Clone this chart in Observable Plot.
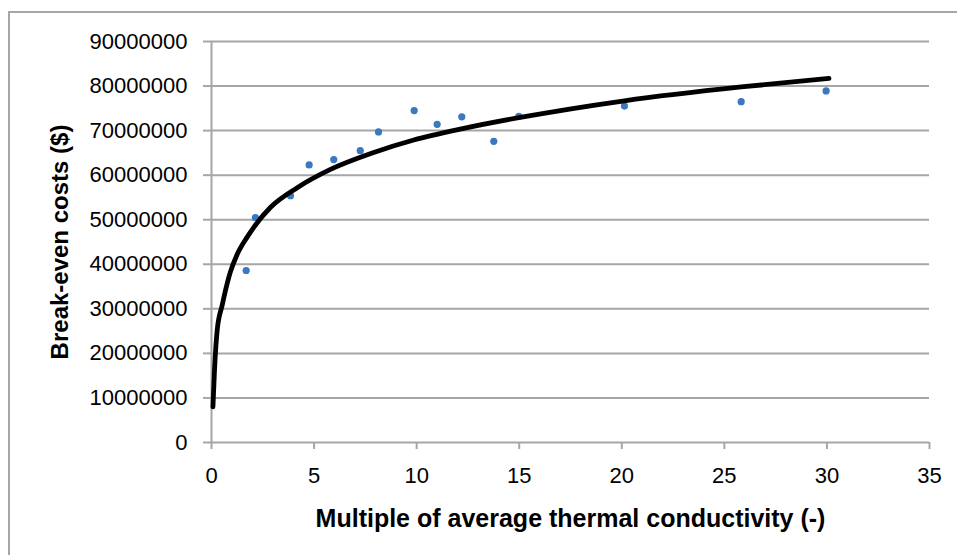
<!DOCTYPE html>
<html>
<head>
<meta charset="utf-8">
<script src="https://cdn.jsdelivr.net/npm/d3@7"></script>
<script src="https://cdn.jsdelivr.net/npm/@observablehq/plot@0.6"></script>
<style>
  body { margin: 0; background: #fff; }
  #wrap { position: relative; width: 957px; height: 555px; overflow: hidden; background: #fff; }
  #wrap svg { position: absolute; left: 0; top: 0; }
  #border { position: absolute; left: 8px; top: 11px; right: -10px; bottom: -10px;
            border-left: 2px solid #a6a6a6; border-top: 2px solid #a6a6a6; pointer-events: none; }
</style>
</head>
<body>
<div id="wrap"><div id="border"></div></div>
<script>
// ---- data ----
const xLabel = "Multiple of average thermal conductivity (-)";
const yLabel = "Break-even costs ($)";
const xTicks = [0, 5, 10, 15, 20, 25, 30, 35];
const yTicks = [0, 10000000, 20000000, 30000000, 40000000, 50000000, 60000000, 70000000, 80000000, 90000000];

// observed points
const pointX = [1.69, 2.14, 3.85, 4.76, 5.96, 7.25, 8.14, 9.88, 11.0, 12.2, 13.76, 14.98, 20.13, 25.82, 29.96];
const pointY = [38.6e6, 50.5e6, 55.4e6, 62.3e6, 63.5e6, 65.5e6, 69.7e6, 74.5e6, 71.4e6, 73.1e6, 67.6e6, 73.2e6, 75.5e6, 76.5e6, 78.9e6];

// trend curve
const trendX = [0.07, 0.15, 0.28, 0.52, 0.84, 0.93, 1.25, 1.74, 2.06, 2.88, 4.18, 5.80, 7.91, 9.86, 12.3, 14.98, 20.13, 25.82, 30.1];
const trendY = [8.0e6, 16.6e6, 25.3e6, 30.8e6, 37.0e6, 38.4e6, 42.2e6, 46.1e6, 48.3e6, 52.8e6, 57.2e6, 61.3e6, 65.1e6, 67.9e6, 70.5e6, 72.9e6, 76.7e6, 79.8e6, 81.7e6];

const points = pointX.map((x, i) => ({x, y: pointY[i]}));
const trend = trendX.map((x, i) => ({x, y: trendY[i]}));

const grid = "#a6a6a6";

const chart = Plot.plot({
  width: 957,
  height: 555,
  marginLeft: 211,
  marginRight: 28,
  marginTop: 41,
  marginBottom: 113,
  x: {domain: [0, 35]},
  y: {domain: [0, 90000000]},
  style: {fontFamily: "'Liberation Sans', Arial, sans-serif", fontSize: "22px", background: "transparent", color: "#000", overflow: "visible"},
  marks: [
    Plot.ruleY(yTicks, {x1: 0, x2: 35, stroke: grid, strokeWidth: 2}),
    Plot.ruleX([0], {y1: 0, y2: 90000000, stroke: grid, strokeWidth: 2}),
    Plot.axisY({ticks: yTicks, tickSize: 8, tickPadding: 16, tickFormat: d3.format("d"),
                stroke: grid, strokeWidth: 2, fill: "#000", fontSize: 22, label: null}),
    Plot.axisX({ticks: xTicks, tickSize: 7, tickPadding: 18, tickFormat: d => String(d),
                stroke: grid, strokeWidth: 2, fill: "#000", fontSize: 22, label: null}),
    Plot.dot(points, {x: "x", y: "y", r: 3.6, fill: "#3a78bf", stroke: "none"}),
    Plot.line(trend, {x: "x", y: "y", stroke: "#000", strokeWidth: 4.8, curve: "monotone-x", strokeLinecap: "round"}),
    Plot.text([xLabel], {text: d => d, frameAnchor: "bottom", dy: 76, lineAnchor: "middle", textAnchor: "middle",
                         fontWeight: "bold", fontSize: 25, fill: "#000"}),
    Plot.text([yLabel], {text: d => d, frameAnchor: "left", dx: -151, rotate: -90, lineAnchor: "middle", textAnchor: "middle",
                         fontWeight: "bold", fontSize: 24, fill: "#000"})
  ]
});

document.getElementById("wrap").insertBefore(chart, document.getElementById("border"));
</script>
</body>
</html>
